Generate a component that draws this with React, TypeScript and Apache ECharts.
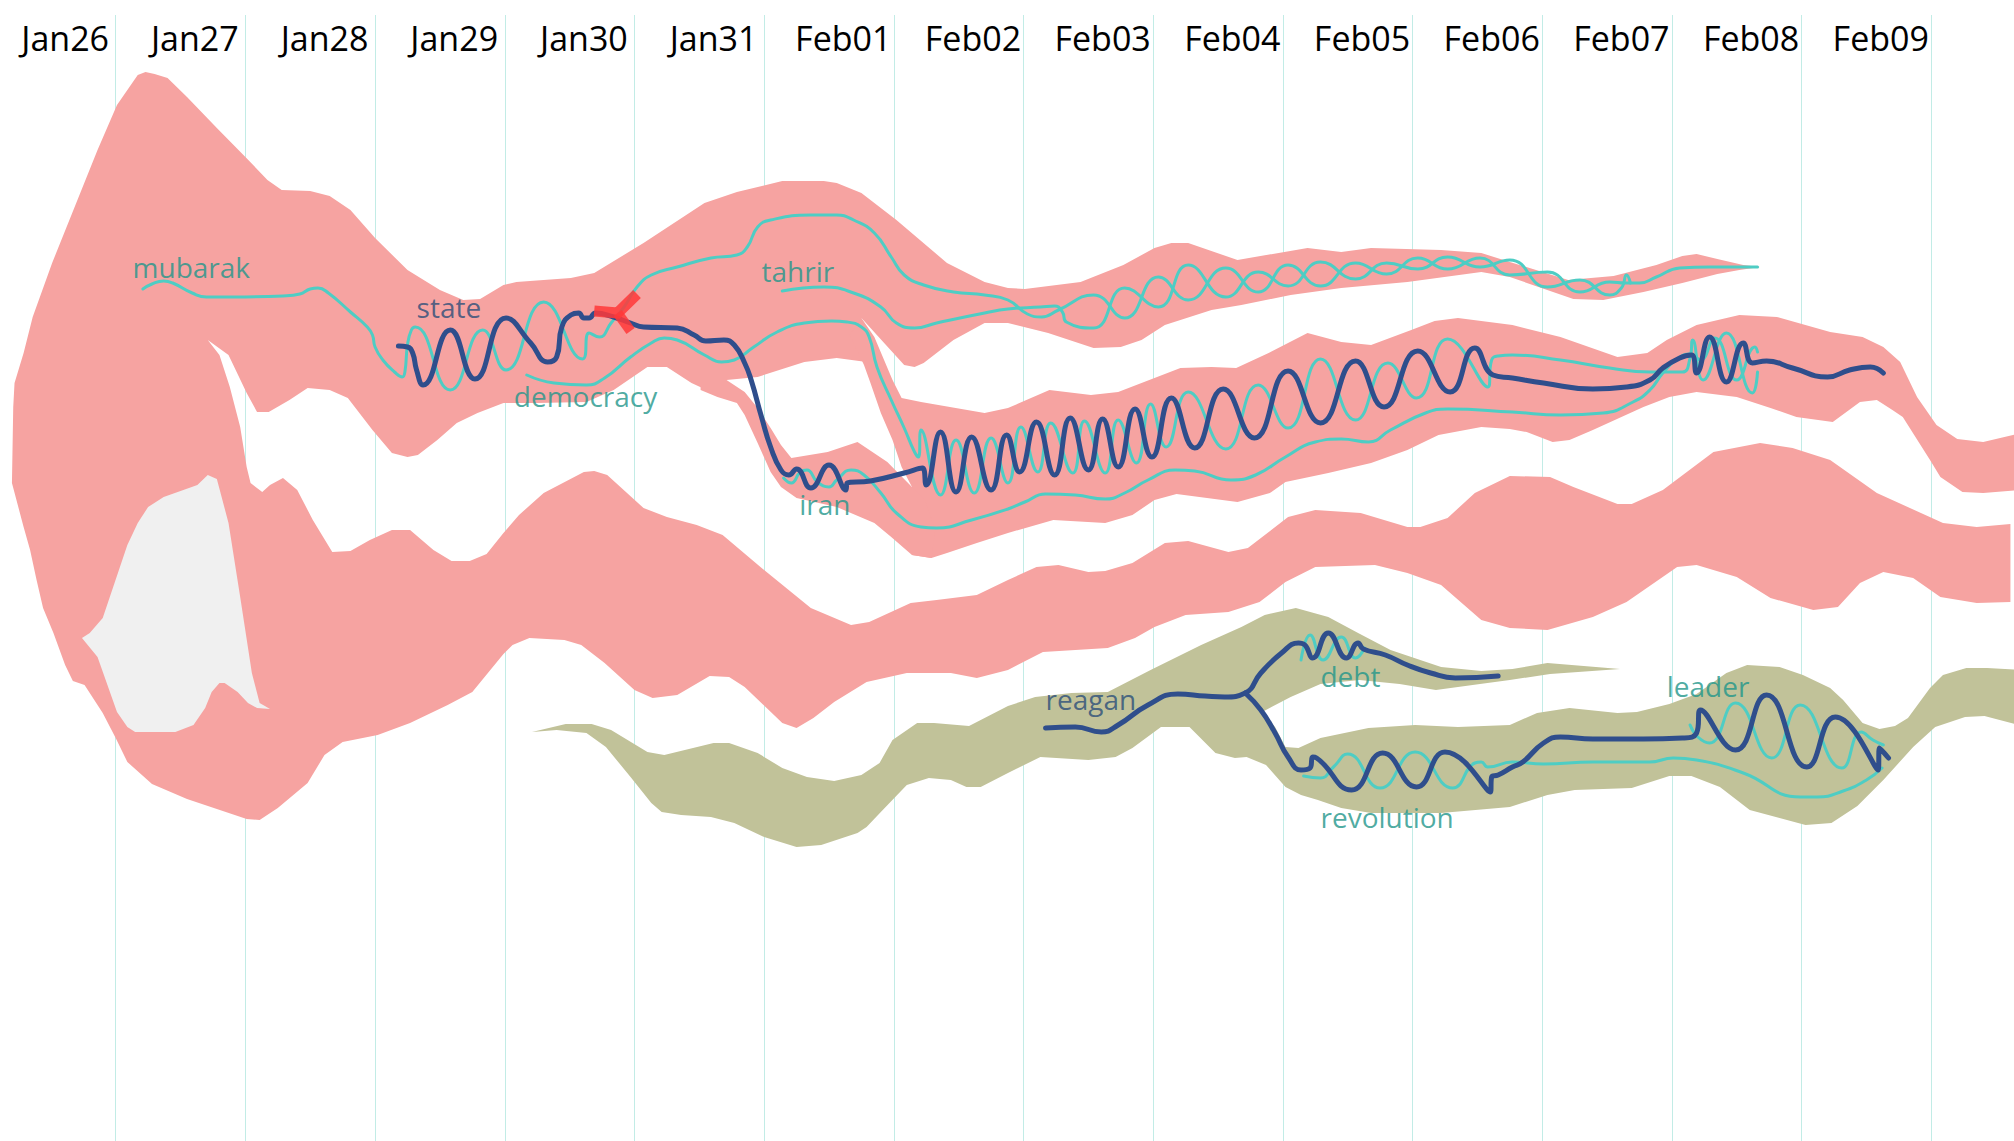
import React, { useEffect, useRef } from 'react';
import * as echarts from 'echarts';

// x = day index (0 = start of Jan26), y = vertical position of the stream (top = small)
const dayLabels = ['Jan26', 'Jan27', 'Jan28', 'Jan29', 'Jan30', 'Jan31', 'Feb01', 'Feb02', 'Feb03', 'Feb04', 'Feb05', 'Feb06', 'Feb07', 'Feb08', 'Feb09'];

// outline of the big pink stream (mubarak / state / tahrir / democracy + lower band)
const pinkMain = [
  [0.20, 48.3], [0.21, 40.7], [0.22, 38.3], [0.29, 35.3], [0.36, 31.7], [0.51, 26.3], [0.86, 15.0], [1.01, 10.5], [1.17, 7.5], [1.23, 7.2], [1.30, 7.4], [1.40, 7.8], [1.55, 9.7], [1.78, 12.8], [2.00, 15.7], [2.06, 16.5], [2.17, 18.0], [2.28, 19.0], [2.50, 19.1], [2.65, 19.6], [2.81, 21.0], [3.00, 23.8], [3.25, 27.0], [3.50, 29.0], [3.68, 30.0], [3.81, 29.9], [3.99, 28.5], [4.09, 28.2], [4.51, 27.8], [4.69, 27.3], [5.07, 24.3], [5.54, 20.3], [5.79, 19.2], [6.14, 18.1], [6.46, 18.1], [6.56, 18.3], [6.75, 19.3], [7.02, 22.0], [7.41, 26.3], [7.70, 28.2], [7.88, 28.8], [8.01, 28.9], [8.44, 28.2], [8.77, 26.5], [9.01, 24.8], [9.14, 24.3], [9.27, 24.3], [9.65, 26.0], [10.19, 24.8], [10.45, 25.2], [10.68, 24.8], [11.22, 25.0], [11.53, 25.3], [11.75, 26.2], [12.20, 28.0], [12.55, 27.6], [12.88, 26.5], [13.08, 25.6], [13.19, 25.4], [13.35, 25.9], [13.55, 26.5], [13.68, 26.7],
  [13.52, 27.0], [13.35, 27.4], [13.08, 28.3], [12.78, 29.2], [12.47, 30.0], [12.24, 29.9], [11.75, 27.7], [11.53, 27.2], [10.96, 28.2], [10.45, 28.8], [10.06, 29.5], [9.68, 30.5], [9.45, 31.0], [9.09, 32.5], [8.91, 34.0], [8.75, 34.7], [8.54, 34.8], [8.19, 33.3], [7.88, 32.3], [7.70, 32.3], [7.46, 34.0], [7.23, 36.3], [7.16, 36.7], [7.08, 36.5], [6.75, 31.8],
  [6.79, 36.2], [6.56, 35.8], [6.31, 36.2], [5.95, 37.7], [5.71, 38.0], [5.64, 39.5],
  [5.44, 38.3], [5.25, 36.7], [5.10, 36.7], [4.84, 39.0], [4.63, 40.2], [4.25, 40.3], [3.99, 40.3],
  [3.79, 41.3], [3.63, 42.3], [3.48, 44.0], [3.33, 45.5], [3.25, 45.7], [3.13, 45.3], [2.98, 43.0], [2.79, 39.8], [2.65, 39.0], [2.48, 38.8], [2.34, 40.0], [2.18, 41.2], [2.09, 41.2], [2.01, 39.3], [1.87, 35.5], [1.71, 34.0],
  [1.80, 35.5], [1.88, 38.7], [1.96, 42.7], [2.01, 46.7], [2.04, 48.3], [2.13, 49.2],
  [2.19, 48.5], [2.29, 47.8], [2.40, 49.0], [2.52, 52.0], [2.67, 55.2], [2.81, 55.1], [2.96, 54.0], [3.13, 53.0], [3.27, 53.0], [3.45, 55.0], [3.59, 56.1], [3.73, 56.1], [3.86, 55.4], [3.99, 53.3], [4.11, 51.5], [4.30, 49.3], [4.61, 47.2], [4.69, 47.1], [4.79, 47.5], [5.07, 50.8], [5.25, 51.7], [5.48, 52.5], [5.68, 53.5], [6.00, 57.0], [6.36, 60.8], [6.67, 62.5], [6.81, 62.2], [7.13, 60.3], [7.33, 60.0], [7.64, 59.5], [7.88, 58.0], [8.10, 56.7], [8.27, 56.5], [8.50, 57.2], [8.63, 57.1], [8.84, 56.3], [9.09, 54.3], [9.27, 54.1], [9.58, 55.2], [9.73, 54.8], [10.04, 51.7], [10.25, 51.0], [10.60, 51.3], [10.96, 52.7], [11.06, 52.7], [11.27, 51.8], [11.48, 49.3], [11.75, 47.6], [12.06, 47.7], [12.24, 48.7], [12.58, 50.4], [12.69, 50.4], [12.93, 49.0], [13.32, 45.2], [13.68, 44.3], [13.93, 44.8], [14.22, 46.0], [14.58, 49.3], [15.09, 52.3], [15.35, 52.7], [15.61, 52.4], [15.61, 60.2],
  [15.35, 60.3], [15.07, 59.7], [14.86, 57.8], [14.63, 57.2], [14.45, 58.3], [14.28, 60.7], [14.09, 61.0], [13.76, 59.8], [13.50, 57.7], [13.19, 56.5], [13.04, 56.7], [12.65, 60.2], [12.39, 61.7], [12.04, 63.0], [11.75, 62.8], [11.53, 62.0], [11.22, 58.5], [10.96, 57.3], [10.71, 56.5], [10.25, 56.7], [10.02, 58.2], [9.82, 60.2], [9.58, 61.2], [9.25, 61.5], [9.01, 62.7], [8.86, 63.8], [8.65, 64.8], [8.15, 65.2], [7.88, 67.0], [7.64, 67.8], [7.44, 67.3], [7.10, 67.3], [6.79, 68.2], [6.54, 70.2], [6.38, 71.8], [6.25, 72.8], [6.14, 72.3], [5.85, 68.7], [5.73, 67.7], [5.58, 67.6], [5.33, 69.5], [5.14, 69.8], [5.00, 69.0], [4.77, 66.3], [4.59, 64.5], [4.46, 64.0], [4.19, 63.8], [4.06, 64.5], [3.99, 65.4], [3.75, 69.2], [3.56, 70.5], [3.27, 72.3], [3.02, 73.5], [2.75, 74.2], [2.61, 75.5], [2.48, 78.3], [2.25, 80.8], [2.11, 82.0], [2.01, 81.9], [1.55, 79.9], [1.28, 78.4], [1.09, 76.2], [1.00, 73.8], [0.90, 71.3], [0.76, 68.5], [0.67, 68.1], [0.61, 66.5], [0.52, 63.3], [0.44, 60.8], [0.39, 58.0], [0.34, 55.0], [0.29, 52.7],
];

// middle pink stream (Feb02 .. right edge)
const pinkWave = [
  [6.66, 33.5], [6.75, 31.8], [6.85, 33.7], [6.99, 38.0], [7.06, 39.8], [7.21, 40.2], [7.70, 41.3], [7.88, 40.8], [8.20, 39.0], [8.52, 39.5], [8.73, 39.2], [9.21, 36.8], [9.45, 36.7], [9.64, 36.8], [9.89, 35.3], [10.19, 33.3], [10.45, 34.2], [10.68, 34.5], [10.99, 33.0], [11.17, 32.1], [11.35, 31.8], [11.77, 32.5], [12.14, 33.7], [12.58, 35.7], [12.81, 35.3], [12.96, 34.0], [13.19, 32.5], [13.52, 31.5], [13.81, 31.7], [14.22, 33.2], [14.47, 33.7], [14.63, 34.7], [14.76, 36.2], [14.89, 39.7], [15.04, 42.5], [15.20, 43.9], [15.40, 44.2], [15.70, 43.3], [15.70, 49.0],
  [15.40, 49.3], [15.24, 49.2], [15.07, 47.7], [14.99, 46.0], [14.78, 41.7], [14.70, 41.0], [14.58, 40.0], [14.45, 40.2], [14.24, 42.2], [13.96, 41.7], [13.76, 40.8], [13.50, 39.7], [13.19, 39.2], [12.98, 39.7], [12.78, 40.7], [12.39, 43.0], [12.21, 44.0], [12.08, 44.2], [11.88, 43.2], [11.75, 42.9], [11.53, 42.7], [11.20, 43.5], [10.96, 45.0], [10.68, 46.3], [10.35, 47.3], [10.02, 48.2], [9.90, 49.3], [9.65, 50.2], [9.18, 49.4], [9.01, 50.0], [8.84, 51.5], [8.63, 52.3], [8.23, 52.0], [7.88, 53.3], [7.64, 54.3], [7.41, 55.3], [7.29, 55.8], [7.14, 55.5], [7.14, 48.7], [7.06, 46.7], [6.99, 44.0], [6.90, 41.3], [6.82, 38.3], [6.77, 36.5],
];

// small pink branch carrying "iran"
const pinkIran = [
  [5.51, 38.0], [5.71, 38.0], [5.85, 39.2], [5.95, 40.8], [6.05, 42.8], [6.13, 44.5], [6.21, 45.8], [6.49, 45.2], [6.72, 44.2], [6.95, 46.2], [7.14, 48.7], [7.24, 50.0], [7.32, 53.0], [7.29, 55.8], [7.14, 55.5], [6.98, 53.7], [6.85, 52.3], [6.56, 50.7], [6.25, 49.8], [6.13, 48.7], [6.05, 47.2], [5.95, 44.3], [5.85, 41.5], [5.79, 40.3], [5.64, 39.7], [5.51, 39.0],
];

// olive stream (reagan / debt / revolution / leader)
const oliveStream = [
  [4.21, 73.2], [4.47, 72.4], [4.67, 72.4], [4.82, 73.0], [5.10, 75.2], [5.23, 75.5], [5.61, 74.3], [5.73, 74.3], [5.95, 75.3], [6.14, 76.8], [6.33, 77.7], [6.54, 78.1], [6.75, 77.5], [6.89, 76.3], [6.99, 74.0], [7.18, 72.3], [7.31, 72.3], [7.58, 72.6], [7.88, 70.6], [8.09, 69.7], [8.37, 69.3], [8.65, 69.2], [8.98, 67.0], [9.37, 64.5], [9.68, 62.7], [9.86, 61.5], [10.10, 60.8], [10.35, 61.7], [10.58, 63.3], [10.83, 65.0], [11.22, 66.7], [11.53, 67.1], [11.77, 66.9], [12.04, 66.3], [12.60, 66.9],
  [12.06, 67.4], [11.75, 68.0], [11.52, 68.4], [11.18, 69.0], [10.90, 68.4], [10.59, 68.0], [10.29, 68.4], [10.06, 69.7], [9.84, 71.2],
  [9.94, 72.7], [10.02, 74.7], [10.12, 74.8], [10.29, 73.8], [10.66, 72.8], [11.02, 72.5], [11.35, 72.7], [11.75, 72.5], [11.96, 71.3], [12.21, 70.8], [12.58, 71.3], [12.73, 71.2], [12.98, 70.4], [13.19, 69.4], [13.42, 67.3], [13.58, 66.5], [13.83, 66.7], [14.01, 67.5], [14.22, 68.8], [14.32, 70.0], [14.47, 72.3], [14.60, 72.9], [14.72, 72.6], [14.82, 71.8], [14.99, 68.8], [15.09, 67.5], [15.27, 66.8], [15.43, 66.8], [15.70, 67.0], [15.70, 72.6],
  [15.41, 71.6], [15.26, 71.7], [15.03, 72.7], [14.86, 74.7], [14.63, 78.0], [14.43, 80.6], [14.23, 82.3], [14.03, 82.5], [13.83, 81.8], [13.60, 81.0], [13.37, 78.7], [13.15, 77.6], [12.98, 77.6], [12.69, 78.8], [12.25, 79.0], [12.04, 79.5], [11.75, 80.7], [11.22, 81.3], [10.68, 81.3], [10.45, 80.8], [10.27, 80.0], [10.14, 79.5], [10.02, 78.7], [9.87, 76.5], [9.72, 75.7], [9.63, 75.8], [9.48, 75.3], [9.28, 72.7], [9.06, 72.7], [8.84, 74.8], [8.71, 75.7], [8.50, 76.0], [8.13, 75.7], [7.88, 77.3], [7.67, 78.7], [7.56, 78.7], [7.44, 78.0], [7.27, 77.8], [7.10, 78.5], [6.90, 81.2], [6.79, 82.7], [6.72, 83.3], [6.44, 84.5], [6.25, 84.7], [6.00, 83.7], [5.77, 82.3], [5.59, 81.7], [5.36, 81.5], [5.21, 81.2], [5.13, 80.3], [4.97, 77.7], [4.78, 74.7], [4.63, 73.3], [4.40, 73.0],
];

const greyPatch = [
  [0.74, 63.8], [0.80, 63.3], [0.90, 61.8], [1.09, 54.5], [1.17, 52.3], [1.25, 50.7], [1.37, 49.7], [1.63, 48.5], [1.71, 47.5], [1.78, 47.9], [1.87, 52.3], [1.96, 59.7], [2.05, 67.3], [2.11, 70.3], [2.19, 70.9], [2.09, 70.8], [2.02, 70.3], [1.94, 69.2], [1.84, 68.3], [1.80, 68.3], [1.74, 69.2], [1.69, 70.8], [1.60, 72.5], [1.46, 73.2], [1.15, 73.2], [1.09, 72.7], [1.01, 71.2], [0.86, 65.7],
];

// topic threads
const mubarakLine = [
  [1.21, 28.9], [1.28, 28.4], [1.37, 28.1], [1.44, 28.3], [1.59, 29.3], [1.70, 29.7], [1.91, 29.7], [2.29, 29.6], [2.42, 29.4], [2.50, 28.9], [2.56, 28.8], [2.64, 29.3], [2.81, 31.2], [2.94, 32.7], [2.98, 33.5], [3.00, 34.7], [3.06, 36.0], [3.15, 37.2], [3.21, 37.7], [3.23, 37.2], [3.25, 34.5], [3.28, 33.0], [3.31, 32.7], [3.58, 39.0], [3.83, 33.0], [4.01, 37.0], [4.30, 30.2], [4.60, 35.9], [4.65, 33.3], [4.73, 33.7], [4.82, 32.3], [4.92, 30.7], [5.02, 28.7], [5.13, 27.5], [5.33, 26.7], [5.59, 25.8], [5.79, 25.5], [5.87, 24.7], [5.95, 22.7], [6.05, 22.0], [6.36, 21.5], [6.56, 21.5], [6.69, 22.0], [6.85, 23.3], [6.98, 25.7], [7.08, 27.5], [7.23, 28.5], [7.46, 29.2], [7.70, 29.5], [7.88, 30.0],
  [8.03, 31.4], [8.14, 31.7], [8.27, 31.0], [8.54, 29.5], [8.78, 31.8], [9.04, 27.7], [9.27, 30.0], [9.56, 26.8], [9.81, 29.2], [10.04, 26.5], [10.29, 28.6], [10.56, 26.3], [10.80, 27.4], [11.04, 25.8], [11.27, 26.9], [11.52, 25.8], [11.75, 27.5], [12.04, 27.2], [12.29, 29.2], [12.52, 28.2], [12.64, 28.3], [12.75, 28.3], [12.88, 27.7], [13.06, 26.8], [13.29, 26.7], [13.66, 26.7],
];
const tahrirLine = [
  [6.14, 29.1], [6.46, 28.7], [6.69, 29.3], [6.90, 30.7], [7.02, 32.3], [7.16, 32.8], [7.33, 32.3], [7.70, 31.3], [7.88, 30.9], [8.13, 30.7], [8.24, 30.6], [8.30, 31.2], [8.33, 32.2], [8.54, 32.8], [8.78, 28.8], [9.04, 30.7], [9.27, 26.5], [9.56, 29.7], [9.81, 27.2], [10.04, 28.6], [10.29, 26.2], [10.56, 27.9], [10.80, 26.3], [11.04, 26.9], [11.27, 25.7], [11.52, 26.7], [11.75, 26.0], [12.04, 28.7], [12.29, 28.0], [12.52, 29.5], [12.61, 28.8], [12.65, 27.5], [12.68, 28.3],
];
const democracyLine = [
  [4.17, 37.5], [4.38, 38.3], [4.63, 38.5], [4.77, 37.8], [4.97, 35.7], [5.13, 34.3], [5.23, 33.8], [5.33, 34.0], [5.54, 35.5], [5.67, 36.2], [5.77, 36.0], [5.92, 34.7], [6.10, 33.2], [6.31, 32.3], [6.52, 32.1], [6.64, 32.2], [6.75, 32.7], [6.81, 33.7], [6.87, 36.7], [6.98, 40.0], [7.08, 42.8], [7.16, 45.2], [7.19, 45.7], [7.21, 43.0], [7.36, 49.5], [7.48, 44.0], [7.62, 49.3], [7.75, 43.8], [7.88, 48.3], [7.98, 42.7], [8.11, 47.2], [8.21, 42.3], [8.38, 47.3], [8.47, 42.1], [8.63, 47.3], [8.73, 42.0], [8.87, 46.3], [8.98, 40.4], [9.10, 44.7], [9.27, 39.2], [9.56, 44.9], [9.81, 38.5], [10.04, 42.8], [10.29, 35.9], [10.56, 42.0], [10.81, 36.3], [11.03, 39.8], [11.27, 33.9], [11.58, 38.7], [11.61, 36.0], [11.66, 35.6], [11.77, 35.5], [12.14, 36.0], [12.52, 36.8], [12.83, 37.2], [13.08, 37.2], [13.14, 35.8], [13.16, 34.0], [13.24, 38.0], [13.42, 33.3], [13.62, 39.3], [13.66, 37.2],
];
const iranLine = [
  [6.15, 47.8], [6.21, 48.3], [6.28, 47.2], [6.33, 47.0], [6.41, 48.2], [6.50, 48.7], [6.56, 48.0], [6.67, 47.0], [6.77, 47.5], [6.90, 49.3], [7.02, 51.3], [7.21, 52.7], [7.33, 52.8], [7.60, 52.0], [7.88, 50.9], [8.01, 50.2], [8.17, 49.4], [8.40, 49.5], [8.63, 49.9], [8.78, 49.3], [8.96, 48.0], [9.17, 47.0], [9.32, 47.1], [9.60, 48.0], [9.79, 47.5], [10.02, 45.7], [10.25, 44.2], [10.45, 43.9], [10.66, 44.2], [10.83, 43.0], [11.10, 41.3], [11.27, 40.9], [11.77, 41.2], [12.14, 41.5], [12.47, 41.3], [12.70, 40.2], [12.83, 39.0], [12.93, 37.3], [13.04, 35.9], [13.14, 35.4], [13.22, 36.0], [13.33, 33.8], [13.50, 38.0], [13.64, 34.7], [13.66, 35.2],
];
const debtTealLine = [[10.14, 66.0], [10.21, 63.5], [10.31, 66.0], [10.45, 63.7], [10.56, 65.8], [10.63, 64.8]];
const revolutionTealLine = [
  [10.16, 77.6], [10.29, 77.8], [10.39, 76.7], [10.50, 75.4], [10.75, 78.8], [11.02, 75.2], [11.31, 78.8], [11.48, 76.3], [11.53, 76.2], [11.58, 76.7], [11.77, 76.2], [12.01, 76.4], [12.39, 76.2], [12.83, 76.2], [13.01, 75.8], [13.19, 76.0], [13.55, 77.3], [13.99, 79.7], [14.12, 79.7], [14.32, 79.1], [14.50, 78.0], [14.62, 76.8],
];
const leaderLine = [[13.14, 72.5], [13.20, 73.7], [13.29, 74.3], [13.49, 70.3], [13.77, 75.8], [13.99, 70.5], [14.31, 76.8], [14.46, 73.2], [14.55, 74.0], [14.63, 74.5]];

const stateLine = [
  [3.18, 34.6], [3.25, 34.7], [3.29, 35.3], [3.32, 37.0], [3.37, 38.5], [3.58, 33.0], [3.77, 37.9], [4.01, 31.8], [4.20, 34.3], [4.33, 36.2], [4.40, 35.7], [4.44, 32.7], [4.51, 31.5], [4.57, 31.3], [4.61, 31.8], [4.65, 31.8], [4.70, 31.3], [4.84, 31.7], [4.97, 32.3], [5.07, 32.7], [5.33, 32.8], [5.46, 33.5], [5.55, 34.1], [5.69, 34.0], [5.77, 34.5], [5.85, 36.3], [5.90, 38.0], [5.98, 41.7], [6.05, 44.7], [6.13, 47.0], [6.19, 47.5], [6.25, 46.9], [6.36, 48.8], [6.50, 46.5], [6.63, 49.0], [6.64, 48.3], [6.82, 48.1], [7.08, 47.3], [7.22, 46.8], [7.25, 48.5], [7.36, 43.2], [7.48, 49.2], [7.60, 43.7], [7.75, 49.0], [7.87, 43.5], [7.97, 47.2], [8.10, 42.2], [8.24, 47.5], [8.36, 41.8], [8.50, 47.0], [8.61, 41.9], [8.73, 46.7], [8.86, 40.9], [8.99, 45.7], [9.14, 39.8], [9.32, 44.8], [9.54, 38.9], [9.78, 43.8], [10.04, 37.1], [10.29, 42.3], [10.56, 36.1], [10.78, 40.7], [11.04, 35.1], [11.29, 39.2], [11.48, 34.8], [11.62, 37.5], [11.77, 37.8], [12.01, 38.3], [12.39, 38.9], [12.65, 38.7], [12.83, 38.0], [12.93, 36.8], [13.06, 35.8], [13.15, 35.5], [13.19, 37.3], [13.29, 33.7], [13.42, 38.2], [13.55, 34.3], [13.62, 36.3], [13.73, 36.1], [13.93, 36.8], [14.20, 37.7], [14.37, 37.0], [14.53, 36.7], [14.63, 37.3],
];
const reaganLine = [
  [8.17, 72.8], [8.40, 72.7], [8.60, 73.2], [8.73, 72.5], [8.96, 70.5], [9.19, 69.4], [9.40, 69.6], [9.55, 69.7], [9.71, 69.3], [9.83, 67.3], [9.99, 65.3], [10.12, 64.3], [10.17, 64.5], [10.23, 65.8], [10.35, 63.3], [10.49, 65.8], [10.58, 64.3], [10.62, 64.9], [10.79, 65.5], [10.96, 66.5], [11.14, 67.3], [11.33, 67.8], [11.66, 67.6],
];
const revolutionLine = [
  [9.71, 69.3], [9.83, 71.0], [9.94, 73.3], [10.04, 75.7], [10.14, 77.0], [10.21, 76.8], [10.23, 75.7], [10.26, 75.8], [10.53, 79.0], [10.77, 75.3], [11.03, 78.7], [11.25, 75.2], [11.60, 79.2], [11.61, 77.7], [11.66, 77.5], [11.77, 76.7], [11.85, 76.2], [12.01, 74.3], [12.14, 73.7], [12.39, 73.9], [12.78, 73.9], [13.08, 73.8], [13.19, 73.3], [13.22, 71.0], [13.49, 75.0], [13.73, 69.5], [14.04, 76.7], [14.26, 71.7], [14.59, 77.0], [14.60, 74.8], [14.67, 75.8],
];

// red junction mark near Jan30
const splashArm = [[4.69, 31.1], [4.87, 31.3], [5.02, 29.4]];
const splashTail = [[4.87, 31.3], [4.97, 33.1]];

const TEAL_TEXT = '#1f968a';
const NAVY_TEXT = '#2b4e79';
const topicNames = ['mubarak', 'state', 'democracy', 'tahrir', 'iran', 'reagan', 'debt', 'revolution', 'leader'];
const topicX = [1.13, 3.32, 4.07, 5.98, 6.27, 8.17, 10.29, 10.29, 12.96];
const topicY = [26.7, 30.7, 39.6, 27.1, 50.4, 69.9, 67.6, 81.7, 68.6];
const topicColors = [TEAL_TEXT, NAVY_TEXT, TEAL_TEXT, TEAL_TEXT, TEAL_TEXT, NAVY_TEXT, TEAL_TEXT, TEAL_TEXT, TEAL_TEXT];

const PINK = '#f6a3a1';
const OLIVE = '#c1c299';
const TEAL = '#4ecdc4';
const NAVY = '#2f4e8c';

const areaSeries = (pts: number[][], color: string, z: number) => ({
  type: 'custom',
  xAxisIndex: 0,
  yAxisIndex: 0,
  z,
  silent: true,
  data: [pts[0]],
  renderItem: (_params: any, api: any) => ({
    type: 'polygon',
    shape: { points: pts.map((p) => api.coord(p)) },
    style: { fill: color },
  }),
});

const lineSeries = (pts: number[][], color: string, width: number, z: number, smooth: number | boolean = 0.5) => ({
  type: 'line',
  xAxisIndex: 0,
  yAxisIndex: 0,
  data: pts,
  smooth,
  symbol: 'none',
  z,
  silent: true,
  lineStyle: { color, width, cap: 'round', join: 'round' },
});

// the plot spans day 0..16; day 0 starts 14px left of the page edge
const CHART_W = 2075.2;
const CHART_LEFT = -14.1;

const App: React.FC = () => {
  const chartRef = useRef<HTMLDivElement>(null);

  useEffect(() => {
    if (!chartRef.current) return undefined;
    const chart = echarts.init(chartRef.current, null, { renderer: 'svg' });

    const option = {
      animation: false,
      grid: [
        { left: 0, right: 0, top: 15, bottom: 0 },
        { left: 14.3, right: 115.4, top: 59, height: 10 },
      ],
      xAxis: [
        {
          type: 'value',
          gridIndex: 0,
          min: 0,
          max: 16,
          interval: 1,
          axisLine: { show: false },
          axisTick: { show: false },
          axisLabel: { show: false },
          splitLine: { show: true, lineStyle: { color: '#c2ece6', width: 1 } },
        },
        {
          type: 'category',
          gridIndex: 1,
          position: 'top',
          data: dayLabels,
          boundaryGap: true,
          axisLine: { show: false },
          axisTick: { show: false },
          splitLine: { show: false },
          axisLabel: { interval: 0, margin: 4, color: '#000', fontSize: 34, fontFamily: 'Open Sans' },
        },
      ],
      yAxis: [
        { type: 'value', gridIndex: 0, inverse: true, min: 1.5, max: 114.1, show: false },
        { type: 'value', gridIndex: 1, show: false },
      ],
      series: [
        areaSeries(pinkMain, PINK, 1),
        areaSeries(pinkWave, PINK, 1),
        areaSeries(pinkIran, PINK, 1),
        areaSeries(oliveStream, OLIVE, 1),
        areaSeries(greyPatch, '#f0f0f0', 2),
        lineSeries(mubarakLine, TEAL, 3, 3),
        lineSeries(tahrirLine, TEAL, 3, 3),
        lineSeries(democracyLine, TEAL, 3, 3),
        lineSeries(iranLine, TEAL, 3, 3),
        lineSeries(debtTealLine, TEAL, 3, 3),
        lineSeries(revolutionTealLine, TEAL, 3, 3),
        lineSeries(leaderLine, TEAL, 3, 3),
        lineSeries(stateLine, NAVY, 5, 4),
        lineSeries(reaganLine, NAVY, 5, 4),
        lineSeries(revolutionLine, NAVY, 5, 4),
        { ...lineSeries(splashArm, 'rgba(255,56,56,0.85)', 11, 5, false), lineStyle: { color: 'rgba(255,56,56,0.85)', width: 11, cap: 'butt', join: 'miter' } },
        { ...lineSeries(splashTail, 'rgba(255,56,56,0.85)', 10, 5, false), lineStyle: { color: 'rgba(255,56,56,0.85)', width: 10, cap: 'butt' } },
        {
          type: 'scatter',
          xAxisIndex: 0,
          yAxisIndex: 0,
          symbolSize: 0,
          z: 6,
          silent: true,
          data: topicNames.map((name, i) => ({
            name,
            value: [topicX[i], topicY[i]],
            label: { color: topicColors[i] },
          })),
          label: {
            show: true,
            position: 'right',
            distance: 0,
            formatter: '{b}',
            fontSize: 28,
            fontFamily: 'Open Sans',
          },
        },
      ],
    };

    chart.setOption(option as any);
    return () => {
      chart.dispose();
    };
  }, []);

  return (
    <div style={{ position: 'absolute', left: 0, top: 0, width: '2014px', height: '1141px', overflow: 'hidden', background: '#fff' }}>
      <div
        ref={chartRef}
        style={{ position: 'absolute', left: `${CHART_LEFT}px`, top: 0, width: `${CHART_W}px`, height: '1141px' }}
      />
    </div>
  );
};

export default App;
